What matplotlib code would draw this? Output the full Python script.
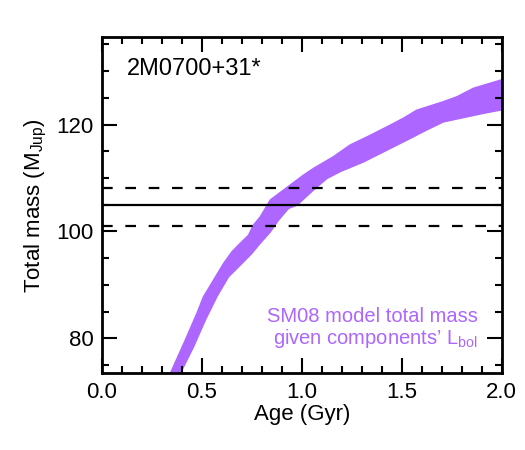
import matplotlib
matplotlib.use('Agg')
import matplotlib.pyplot as plt
from matplotlib.ticker import MultipleLocator, FormatStrFormatter

plt.rcParams['font.family'] = ['Liberation Sans', 'DejaVu Sans']
plt.rcParams['mathtext.fontset'] = 'custom'
plt.rcParams['mathtext.rm'] = 'Liberation Sans'

# SM08 band: high-mass (upper/left) edge and low-mass (lower/right) edge
upper_age = [0.330, 0.342, 0.417, 0.475, 0.508, 0.558, 0.608, 0.650, 0.692, 0.733,
             0.758, 0.792, 0.842, 0.942, 1.008, 1.058, 1.158, 1.242, 1.342, 1.442,
             1.508, 1.575, 1.708, 1.775, 1.858, 1.992, 2.010]
upper_mass = [72.0, 73.45, 79.7, 84.7, 87.8, 90.9, 94.0, 96.2, 97.8, 99.3,
              101.2, 102.75, 105.9, 108.7, 110.55, 111.8, 114.0, 116.2, 118.0, 119.9,
              121.2, 122.7, 124.3, 125.2, 126.8, 128.3, 128.5]
lower_age = [0.382, 0.392, 0.458, 0.517, 0.575, 0.633, 0.692, 0.750, 0.792, 0.842,
             0.883, 0.933, 0.975, 1.058, 1.125, 1.192, 1.308, 1.425, 1.542, 1.625,
             1.708, 1.808, 1.908, 1.992, 2.010]
lower_mass = [72.0, 73.45, 78.4, 83.4, 87.8, 91.5, 93.7, 95.9, 97.8, 99.9,
              102.1, 104.3, 104.9, 107.75, 109.9, 111.2, 113.0, 115.2, 117.4, 119.0,
              120.5, 121.3, 122.1, 122.7, 122.75]

mass_best = 104.9
mass_hi = 108.1
mass_lo = 101.1

purple = '#ad66ff'

fig = plt.figure(figsize=(5.25, 4.5), dpi=100)
ax = fig.add_axes([0.1943, 0.1704, 0.7613, 0.7474])

poly_x = upper_age + lower_age[::-1]
poly_y = upper_mass + lower_mass[::-1]
ax.fill(poly_x, poly_y, facecolor=purple, edgecolor=purple, lw=1.0,
        joinstyle='round', zorder=1)

ax.axhline(mass_best, color='k', lw=1.6, zorder=2)
for m in (mass_hi, mass_lo):
    ax.axhline(m, color='k', lw=1.6, linestyle=(0, (4.8, 5.7)), zorder=2)

ax.set_xlim(0.0, 2.0)
ax.set_ylim(73.45, 136.4)

ax.xaxis.set_major_locator(MultipleLocator(0.5))
ax.xaxis.set_minor_locator(MultipleLocator(0.1))
ax.yaxis.set_major_locator(MultipleLocator(20))
ax.yaxis.set_minor_locator(MultipleLocator(5))
ax.xaxis.set_major_formatter(FormatStrFormatter('%.1f'))

ax.tick_params(which='both', direction='in', top=True, right=True, width=1.5,
               labelsize=16, color='k')
ax.tick_params(which='major', length=10.5, pad=6)
ax.tick_params(which='minor', length=5.2)
for s in ax.spines.values():
    s.set_linewidth(2.0)

ax.set_xlabel('Age (Gyr)', fontsize=16, labelpad=1)
ax.set_ylabel(r'Total mass (M$_{\rm Jup}$)', fontsize=16, labelpad=5)

ax.text(0.063, 0.906, '2M0700+31*', transform=ax.transAxes, fontsize=17,
        ha='left', va='center')
ax.text(0.940, 0.133, 'SM08 model total mass\ngiven components\u2019 L$_{\\rm bol}$',
        transform=ax.transAxes, fontsize=14.5, color=purple, ha='right', va='center',
        multialignment='right', linespacing=1.1)

fig.savefig('out.png', dpi=100)
